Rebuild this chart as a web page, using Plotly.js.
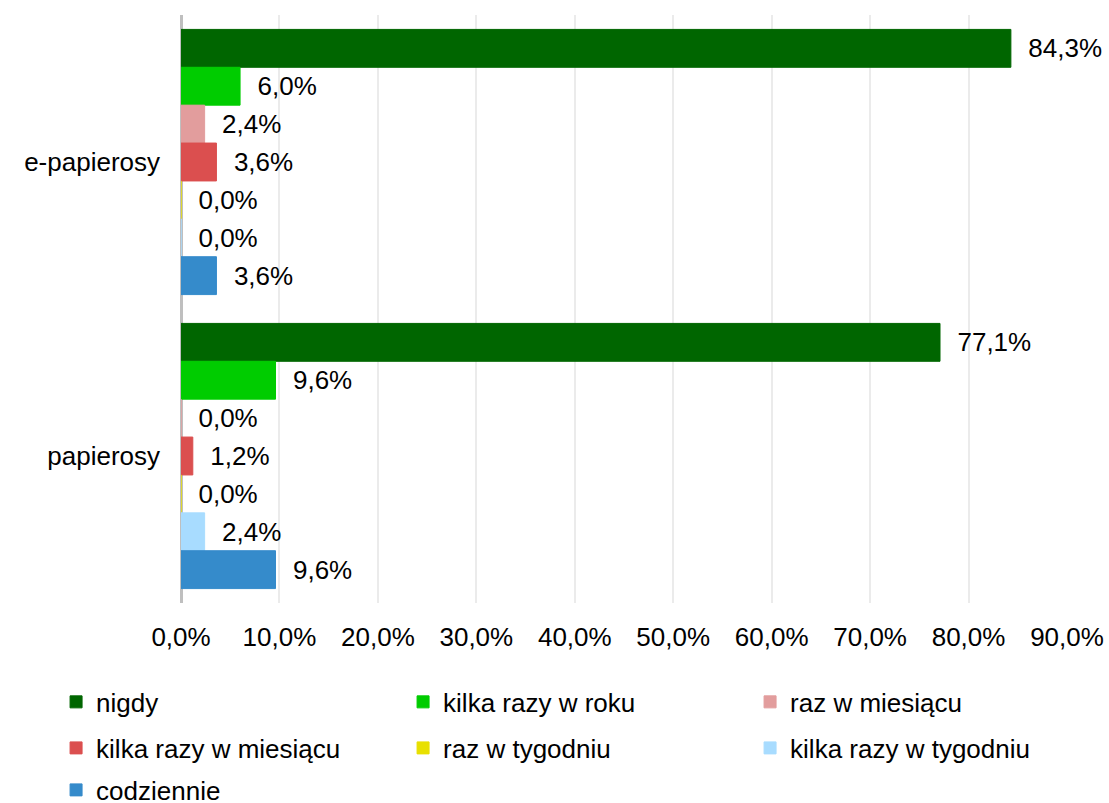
<!DOCTYPE html>
<html>
<head>
<meta charset="utf-8">
<script src="https://cdn.plot.ly/plotly-3.0.1.min.js"></script>
<style>
  html, body { margin: 0; padding: 0; background: #ffffff; }
  #chart { width: 1109px; height: 803px; }
</style>
</head>
<body>
<div id="chart"></div>
<script>
// categories (top to bottom)
const categories = ["e-papierosy", "papierosy"];

// series values in percent, one array per answer
const nigdy = [84.3, 77.1];
const kilkaRazyWRoku = [6.0, 9.6];
const razWMiesiacu = [2.4, 0.0];
const kilkaRazyWMiesiacu = [3.6, 1.2];
const razWTygodniu = [0.0, 0.0];
const kilkaRazyWTygodniu = [0.0, 2.4];
const codziennie = [3.6, 9.6];

const seriesNames = [
  "nigdy", "kilka razy w roku", "raz w miesiącu",
  "kilka razy w miesiącu", "raz w tygodniu", "kilka razy w tygodniu",
  "codziennie"
];
const seriesValues = [
  nigdy, kilkaRazyWRoku, razWMiesiacu,
  kilkaRazyWMiesiacu, razWTygodniu, kilkaRazyWTygodniu,
  codziennie
];
const seriesColors = [
  "#006600", "#00cc00", "#e29d9d",
  "#db4f4f", "#e8e000", "#a8dcff",
  "#358bcb"
];
// which legend row each series sits in
const legendRows = ["legend", "legend", "legend", "legend2", "legend2", "legend2", "legend3"];

const FONT = "Liberation Sans, Arial, sans-serif";

// polish number format: 84,3%
function fmt(v) {
  return "\u00a0\u00a0" + v.toFixed(1).replace(".", ",") + "%";
}

const traces = seriesNames.map((name, i) => ({
  type: "bar",
  orientation: "h",
  name: name,
  y: categories,
  x: seriesValues[i],
  text: seriesValues[i].map(fmt),
  textposition: "outside",
  textfont: { family: FONT, size: 26, color: "#000000" },
  cliponaxis: false,
  constraintext: "none",
  marker: { color: seriesColors[i], line: { color: seriesColors[i], width: 1 } },
  legend: legendRows[i],
  hoverinfo: "skip"
}));

function legendRow(yPos) {
  return {
    orientation: "h",
    x: -0.141,
    xanchor: "left",
    y: yPos,
    yanchor: "middle",
    entrywidth: 302,
    entrywidthmode: "pixels",
    itemwidth: 30,
    font: { family: FONT, size: 26, color: "#000000" },
    bgcolor: "rgba(0,0,0,0)"
  };
}

const layout = {
  width: 1109,
  height: 803,
  margin: { t: 15, r: 42, b: 200, l: 181, autoexpand: false },
  paper_bgcolor: "#ffffff",
  plot_bgcolor: "#ffffff",
  font: { family: FONT, size: 26, color: "#000000" },
  separators: ", ",
  barmode: "group",
  bargap: 0.098,
  bargroupgap: 0,
  xaxis: {
    range: [0, 90],
    dtick: 10,
    tickformat: ".1f",
    ticksuffix: "%",
    showgrid: true,
    gridcolor: "#ebebeb",
    gridwidth: 2,
    zeroline: true,
    zerolinecolor: "#bfbfbf",
    zerolinewidth: 3,
    showline: false,
    ticks: "",
    ticklabelstandoff: 16,
    tickfont: { family: FONT, size: 26, color: "#000000" }
  },
  yaxis: {
    autorange: "reversed",
    showgrid: false,
    zeroline: false,
    showline: false,
    ticks: "",
    ticklabelstandoff: 20,
    tickfont: { family: FONT, size: 26, color: "#000000" }
  },
  legend: legendRow(-0.1683),
  legend2: legendRow(-0.2466),
  legend3: legendRow(-0.3180),
  showlegend: true
};

Plotly.newPlot("chart", traces, layout, { displayModeBar: false, staticPlot: true });
</script>
</body>
</html>
